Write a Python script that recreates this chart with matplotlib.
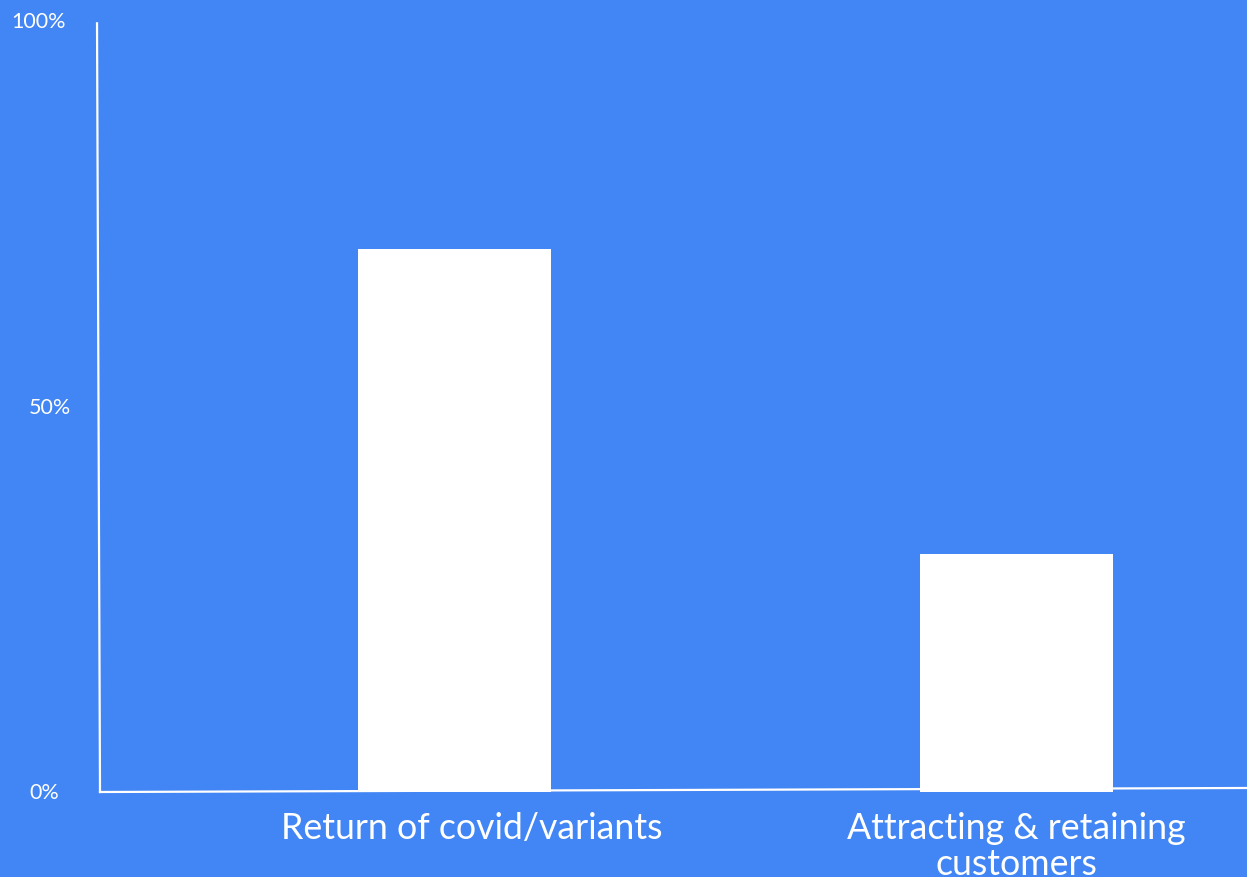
import matplotlib.pyplot as plt
from matplotlib.transforms import ScaledTranslation, blended_transform_factory

categorias = ['Return of covid/variants', 'Attracting & retaining\ncustomers']
valores = [70.4, 30.9]
ticks_y = [0, 50, 100]
rotulos_y = ['0%', '50%', '100%']

AZUL = '#4285F4'
BRANCO = '#FFFFFF'

plt.rcParams['font.family'] = ['Lato', 'DejaVu Sans']

fig = plt.figure(figsize=(12.47, 8.78), dpi=100, facecolor=AZUL)
ax = fig.add_axes([100 / 1247, 85 / 878, 1147 / 1247, 771 / 878])
ax.set_facecolor(AZUL)

posicoes = list(range(len(categorias)))
ax.bar(posicoes, valores, width=0.3434, color=BRANCO, edgecolor='none')

ax.set_xlim(-0.6308, 1.410)
ax.set_ylim(0, 100)
for lado in ax.spines.values():
    lado.set_visible(False)
ax.set_xticks([])
ax.set_yticks([])

# eixos levemente inclinados, como no original
ax.plot([-0.0026, 0], [0.997, 0], transform=ax.transAxes, color=BRANCO, lw=1.6, clip_on=False)
ax.plot([0, 1], [0, 0.0052], transform=ax.transAxes, color=BRANCO, lw=1.6, clip_on=False)

# rótulos do eixo y
trans_y = blended_transform_factory(fig.transFigure, ax.transData)
x_rotulos = [29, 29, 11]
for valor, rotulo, xp in zip(ticks_y, rotulos_y, x_rotulos):
    ax.text(xp / 1247, valor, rotulo, transform=trans_y, ha='left', va='center',
            fontsize=15.5, color=BRANCO)

# rótulos das categorias
trans_x = blended_transform_factory(ax.transData, ax.transAxes)
deslocamentos = [17, 0]
for pos, nome, desl in zip(posicoes, categorias, deslocamentos):
    t = trans_x + ScaledTranslation(desl / 100, -19 / 100, fig.dpi_scale_trans)
    ax.text(pos, 0, nome, transform=t, ha='center', va='top', fontsize=25.7,
            color=BRANCO, linespacing=1.12)

fig.savefig('out.png', dpi=100, facecolor=AZUL)
